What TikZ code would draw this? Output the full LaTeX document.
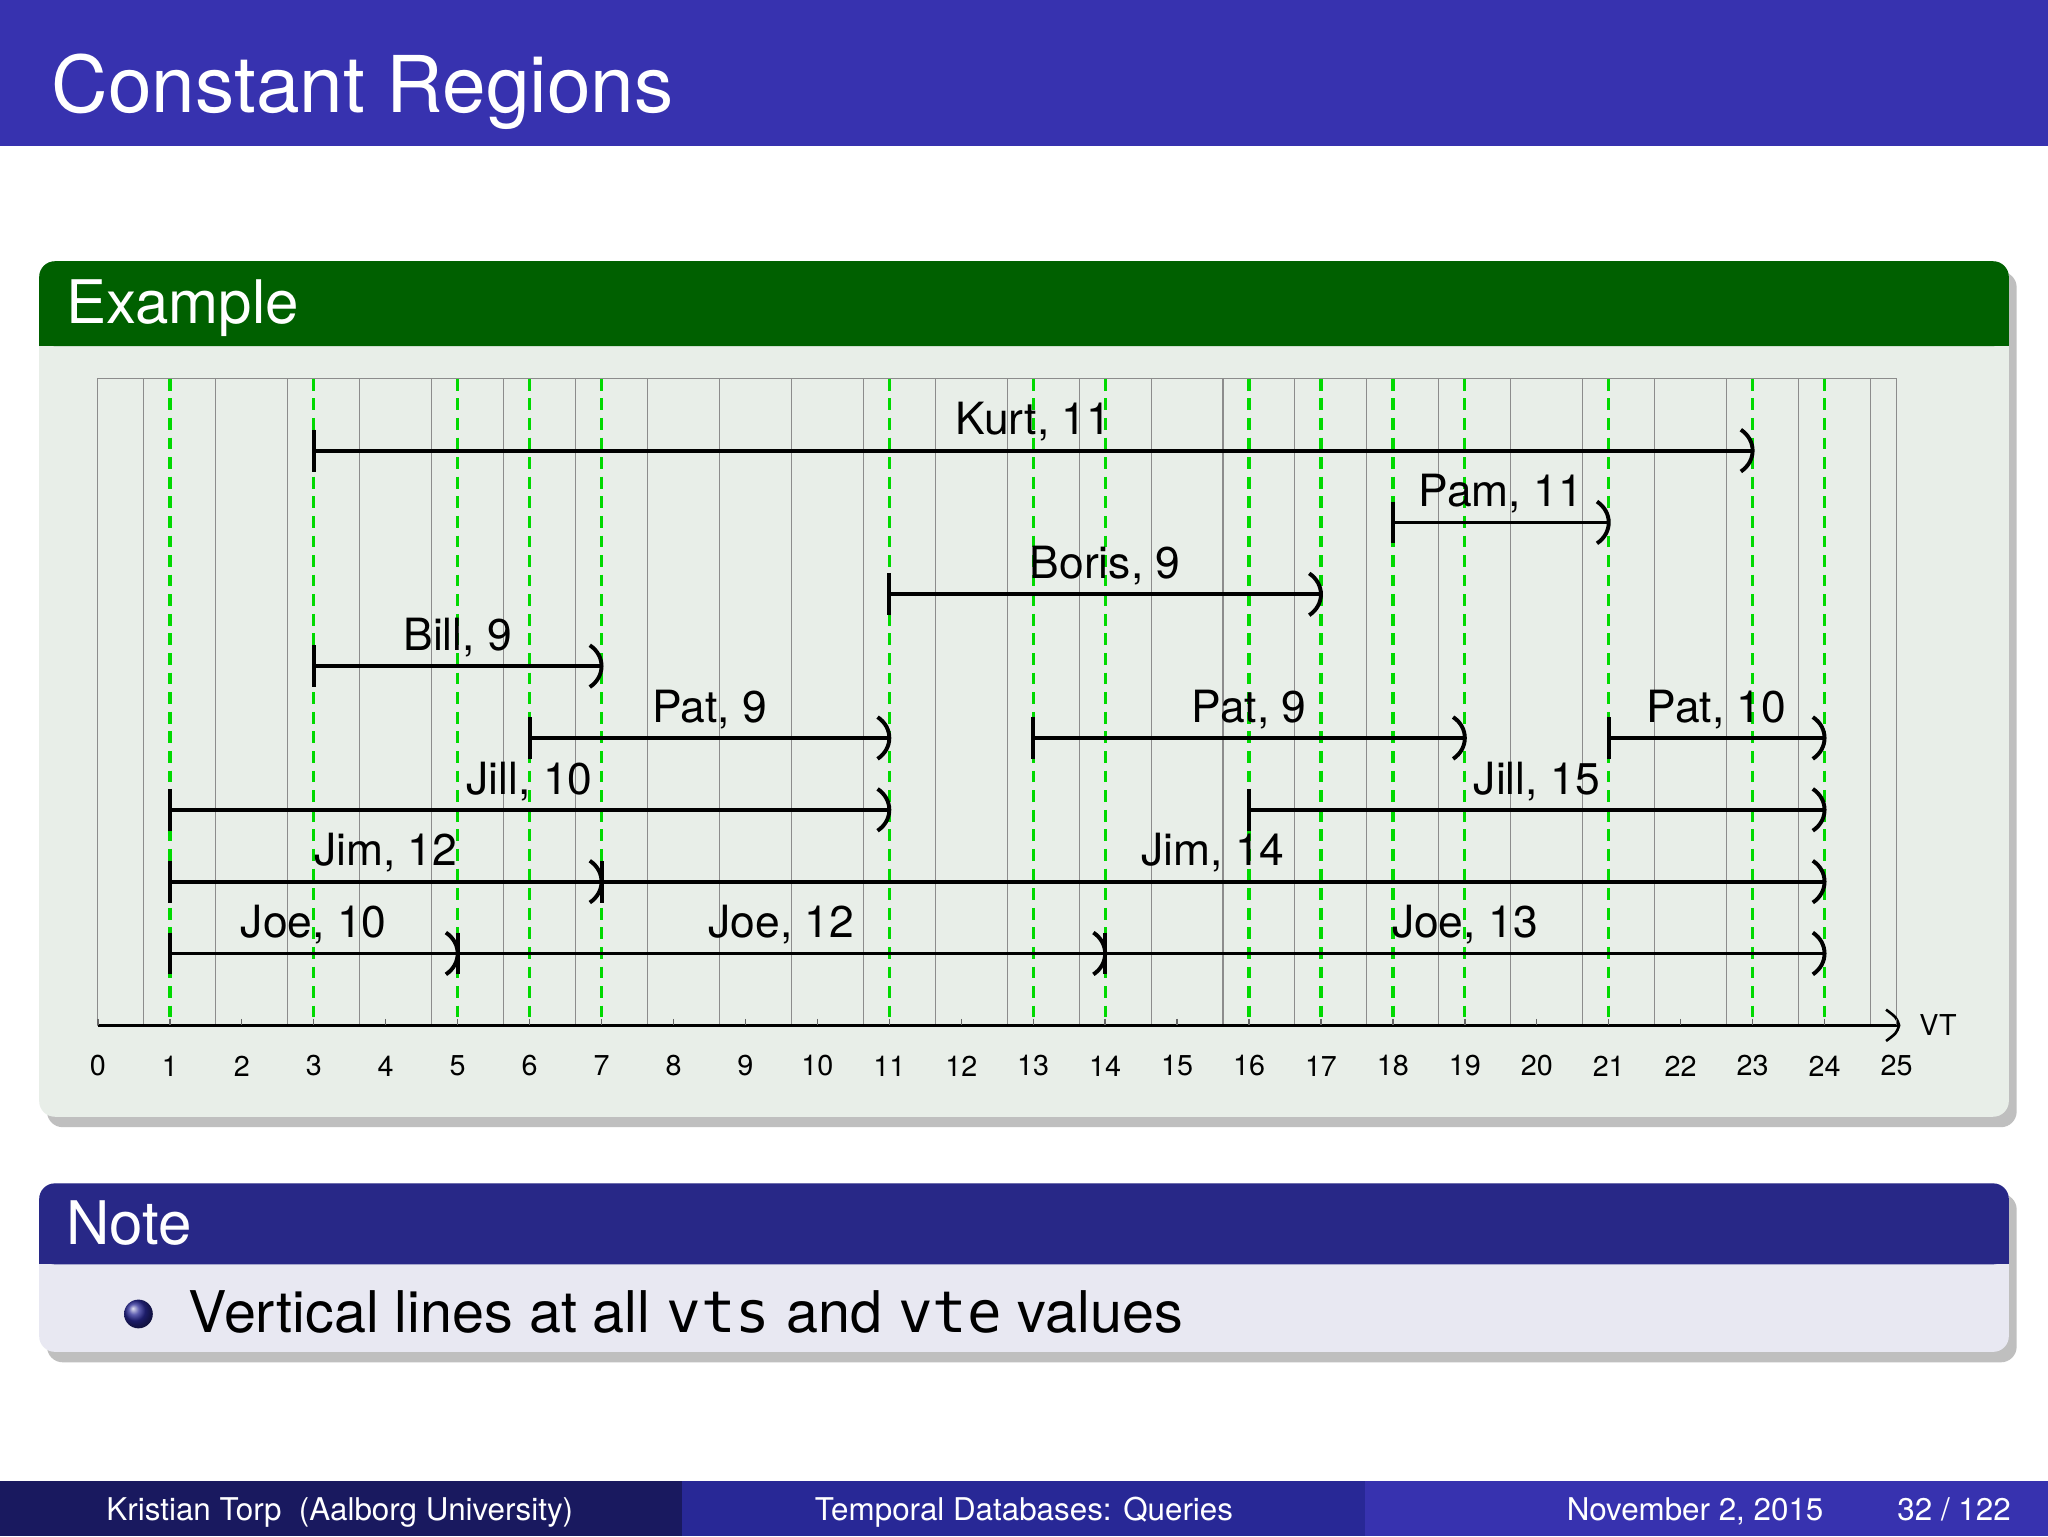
\documentclass[tikz,border=0pt]{standalone}
\usepackage{fontspec}
\setmainfont{TeX Gyre Heros}
\setmonofont{DejaVu Sans Mono}
\begin{document}
\begin{tikzpicture}[x=1pt,y=-1pt,
  iv/.style={line width=3pt},
  gl/.style={green!85!black,line width=2.5pt,dash pattern=on 9pt off 6pt},
  lab/.style={font=\fontsize{34}{34}\selectfont,anchor=base},
  tl/.style={font=\fontsize{22}{22}\selectfont}]
\useasboundingbox (0,0) rectangle (1568,1176);
\fill[white] (0,0) rectangle (1568,1176);
\fill[fill={rgb,255:red,55;green,50;blue,175}] (0,0) rectangle (1568,112);
\node[anchor=base west,white,font=\fontsize{60}{60}\selectfont] (title) at (36,86) {Constant Regions};
% example block
\fill[black!25,rounded corners=12pt] (36,208) rectangle (1544,863);
\fill[fill={rgb,255:red,232;green,238;blue,232},rounded corners=12pt] (30,200) rectangle (1538,855);
\fill[fill={rgb,255:red,0;green,96;blue,0},rounded corners=12pt] (30,200) rectangle (1538,265);
\fill[fill={rgb,255:red,0;green,96;blue,0}] (30,240) rectangle (1538,265);
\node[anchor=base west,white,font=\fontsize{46}{46}\selectfont] (ex) at (47,248) {Example};
% grid
\draw[black!45,line width=0.8pt] (75,290) grid[xstep=55.08,ystep=55] (1452,785);
\draw[black!45,line width=0.8pt] (75,290) rectangle (1452,785);
\foreach \a in {1,3,5,6,7,11,13,14,16,17,18,19,21,23,24}
  \draw[gl] ({75+55.08*\a},290) -- ({75+55.08*\a},785);
% axis
\coordinate (ax0) at (75,785);
\coordinate (ax1) at (1454,785);
\draw[line width=2pt] (ax0) -- (ax1);
\draw[line width=2pt] (1444,773) .. controls (1452,779) .. (1454,785) .. controls (1452,791) .. (1444,797);
\node[tl,anchor=west] (vt) at (1466,785) {VT};
\foreach \a in {0,...,25} {
  \draw[black!60,line width=1pt] ({75+55.08*\a},780) -- ({75+55.08*\a},785);
  \node[tl] at ({75+55.08*\a},816) {\a};
}
% intervals
\newcommand\ivl[4]{%
  \draw[iv] ({75+55.08*#1},#3) -- ({75+55.08*#2},#3);
  \draw[iv] ({75+55.08*#1},{#3-16}) -- ({75+55.08*#1},{#3+16});
  \draw[iv] ({75+55.08*#2-9},{#3-16}) .. controls ({75+55.08*#2+3},{#3-8}) and ({75+55.08*#2+3},{#3+8}) .. ({75+55.08*#2-9},{#3+16});
  \node[lab] at ({75+55.08*(#1+#2)/2},{#3-12}) {#4};
}
\ivl{3}{23}{345}{Kurt, 11}
\ivl{18}{21}{400}{Pam, 11}
\ivl{11}{17}{455}{Boris, 9}
\ivl{3}{7}{510}{Bill, 9}
\ivl{6}{11}{565}{Pat, 9}
\ivl{13}{19}{565}{Pat, 9}
\ivl{21}{24}{565}{Pat, 10}
\ivl{1}{11}{620}{Jill, 10}
\ivl{16}{24}{620}{Jill, 15}
\ivl{1}{7}{675}{Jim, 12}
\ivl{7}{24}{675}{Jim, 14}
\ivl{1}{5}{730}{Joe, 10}
\ivl{5}{14}{730}{Joe, 12}
\ivl{14}{24}{730}{Joe, 13}
% note block
\fill[black!25,rounded corners=12pt] (36,914) rectangle (1544,1043);
\fill[fill={rgb,255:red,232;green,232;blue,242},rounded corners=12pt] (30,906) rectangle (1538,1035);
\fill[fill={rgb,255:red,40;green,40;blue,135},rounded corners=12pt] (30,906) rectangle (1538,968);
\fill[fill={rgb,255:red,40;green,40;blue,135}] (30,945) rectangle (1538,968);
\node[anchor=base west,white,font=\fontsize{46}{46}\selectfont] (note) at (47,953) {Note};
\shade[ball color={rgb,255:red,40;green,40;blue,150}] (106,1006) circle (11);
\node[anchor=base west,font=\fontsize{44}{44}\selectfont] (nt) at (141,1020) {Vertical lines at all \texttt{vts} and \texttt{vte} values};
% footer
\fill[fill={rgb,255:red,25;green,25;blue,95}] (0,1134) rectangle (522,1176);
\fill[fill={rgb,255:red,40;green,40;blue,150}] (522,1134) rectangle (1045,1176);
\fill[fill={rgb,255:red,55;green,50;blue,175}] (1045,1134) rectangle (1568,1176);
\begin{scope}[white,font=\fontsize{24}{24}\selectfont]
\node[anchor=base west] (f1) at (78,1164) {Kristian Torp\ \ (Aalborg University)};
\node[anchor=base] (f2) at (784,1164) {Temporal Databases: Queries};
\node[anchor=base west] (f3) at (1196,1164) {November 2, 2015};
\node[anchor=base east] (f4) at (1543,1164) {32 / 122};
\end{scope}
\end{tikzpicture}
\end{document}
